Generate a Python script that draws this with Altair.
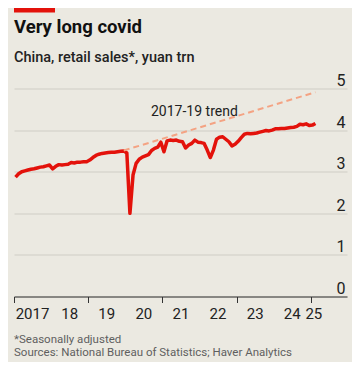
import altair as alt
import pandas as pd

# ---- data (yuan trn, monthly, seasonally adjusted) ----
sales_2017 = [2.87, 2.95, 3.00, 3.02, 3.04, 3.06, 3.07, 3.09, 3.11, 3.12, 3.14, 3.16]
sales_2018 = [3.07, 3.13, 3.17, 3.16, 3.17, 3.18, 3.22, 3.21, 3.23, 3.23, 3.24, 3.24]
sales_2019 = [3.28, 3.34, 3.39, 3.42, 3.44, 3.45, 3.46, 3.47, 3.47, 3.48, 3.49, 3.50]
sales_2020 = [3.45, 2.00, 2.92, 3.20, 3.30, 3.35, 3.38, 3.41, 3.51, 3.56, 3.59, 3.71]
sales_2021 = [3.48, 3.74, 3.76, 3.75, 3.76, 3.73, 3.72, 3.57, 3.64, 3.68, 3.76, 3.71]
sales_2022 = [3.70, 3.68, 3.52, 3.34, 3.52, 3.78, 3.83, 3.84, 3.78, 3.72, 3.62, 3.66]
sales_2023 = [3.73, 3.82, 3.90, 3.92, 3.91, 3.92, 3.93, 3.95, 3.97, 3.99, 3.98, 4.00]
sales_2024 = [4.03, 4.03, 4.04, 4.04, 4.05, 4.06, 4.07, 4.09, 4.14, 4.13, 4.15, 4.11]
sales_2025 = [4.12, 4.16]

trend_x = [2019.958, 2025.125]
trend_y = [3.51, 4.91]

tick_years = [2017, 2018, 2019, 2020, 2021, 2022, 2023, 2024, 2025, 2025.1667]
label_pos = [2017.5, 2018.5, 2019.5, 2020.5, 2021.5, 2022.5, 2023.5, 2024.5, 2025.083]
label_txt = ["2017", "18", "19", "20", "21", "22", "23", "24", "25"]
y_ticks = [0, 1, 2, 3, 4, 5]

values = (sales_2017 + sales_2018 + sales_2019 + sales_2020 + sales_2021
          + sales_2022 + sales_2023 + sales_2024 + sales_2025)
dates = [2017 + i / 12 + 1 / 24 for i in range(len(values))]

sales_df = pd.DataFrame({"t": dates, "v": values})
trend_df = pd.DataFrame({"t": trend_x, "v": trend_y})
lab_df = pd.DataFrame({"t": label_pos, "lab": label_txt})
one = pd.DataFrame({"a": [0]})

RED = "#e3120b"
FONT = "Roboto"
W, H = 333, 208

xscale = alt.Scale(domain=[2017, 2025.976], nice=False, zero=False)
yscale = alt.Scale(domain=[0, 5], nice=False)

xaxis = alt.Axis(values=tick_years, labels=False, ticks=True, tickSize=6,
                 tickColor="#333333", domainColor="#333333", grid=False, title=None)
yaxis = alt.Axis(values=y_ticks, orient="right", grid=True, gridColor="#cfcdc5",
                 ticks=False, domain=False, labelAlign="right", labelPadding=-2,
                 labelBaseline="alphabetic", labelOffset=-3, labelFontSize=16,
                 labelColor="#222222", labelFont=FONT, title=None)

line = alt.Chart(sales_df).mark_line(color=RED, strokeWidth=3.5, strokeJoin="round").encode(
    x=alt.X("t:Q", scale=xscale, axis=xaxis),
    y=alt.Y("v:Q", scale=yscale, axis=yaxis),
)

trend = alt.Chart(trend_df).mark_line(color="#f4a383", strokeWidth=2, strokeDash=[6, 4]).encode(
    x=alt.X("t:Q", scale=xscale),
    y=alt.Y("v:Q", scale=yscale),
)

years = alt.Chart(lab_df).mark_text(font=FONT, fontSize=15, color="#222222",
                                     align="center", baseline="alphabetic").encode(
    x=alt.X("t:Q", scale=xscale),
    y=alt.value(230.5),
    text="lab:N",
)


def txt(s, x, y, size, weight="normal", color="#222222"):
    return alt.Chart(one).mark_text(text=s, font=FONT, fontSize=size, fontWeight=weight,
                                    color=color, align="left", baseline="alphabetic").encode(
        x=alt.value(x), y=alt.value(y))


bar = alt.Chart(one).mark_rect(color=RED).encode(
    x=alt.value(0), x2=alt.value(41), y=alt.value(-80.5), y2=alt.value(-76))

title = txt("Very long covid", 0, -56, 18.5, "bold", "#111111")
subtitle = txt("China, retail sales*, yuan trn", 0, -27, 14.5, 500, "#222222")
trend_lab = txt("2017-19 trend", 137, 27.5, 14, "normal", "#222222")
foot1 = txt("*Seasonally adjusted", 0, 254, 11.5, "normal", "#5f5f5f")
foot2 = txt("Sources: National Bureau of Statistics; Haver Analytics", 0, 267.5, 11.5, "normal", "#5f5f5f")

chart = alt.layer(line, trend, years, bar, title, subtitle, trend_lab, foot1, foot2).properties(
    width=W, height=H,
    autosize=alt.AutoSizeParams(type="none"),
    padding={"left": 6, "top": 80.5, "right": 5, "bottom": 65.5},
    background="#ebe9e1",
).configure_view(stroke=None)

chart.save("out.html", embed_options={"renderer": "svg", "actions": False})
